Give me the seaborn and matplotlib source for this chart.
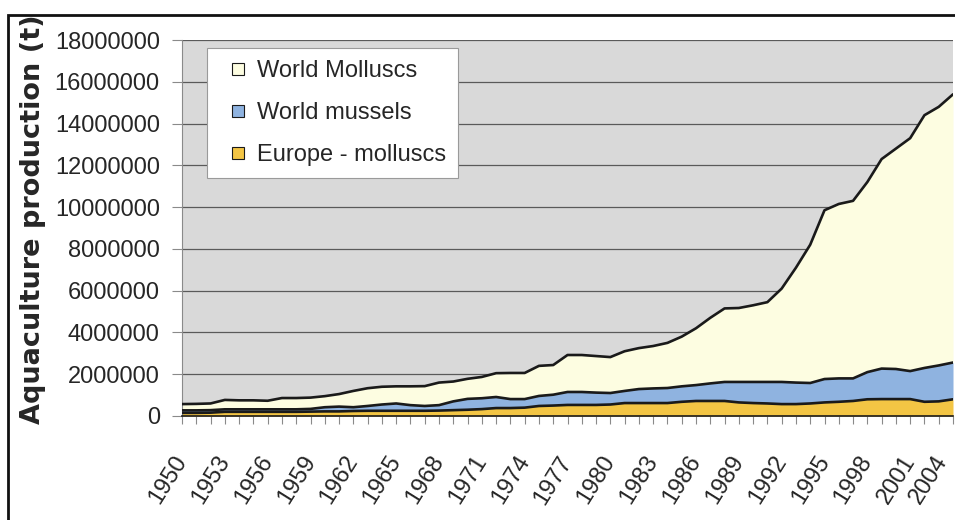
import numpy as np
import pandas as pd
import matplotlib
matplotlib.use("Agg")
import matplotlib.pyplot as plt
from matplotlib.lines import Line2D
from matplotlib.patches import Rectangle
from matplotlib.transforms import ScaledTranslation
import seaborn as sns

# ---------------- data (tonnes, stacked components) ----------------
years = list(range(1950, 2005))
europe_molluscs = [150000, 150000, 160000, 200000, 200000, 200000, 200000, 200000, 200000, 210000,
                   220000, 220000, 240000, 250000, 250000, 250000, 250000, 250000, 260000, 280000,
                   300000, 330000, 380000, 380000, 400000, 480000, 500000, 530000, 530000, 530000,
                   550000, 620000, 620000, 620000, 620000, 680000, 720000, 720000, 720000, 650000,
                   620000, 600000, 570000, 570000, 600000, 650000, 680000, 720000, 800000, 810000,
                   810000, 810000, 680000, 700000, 800000]
world_mussels = [120000, 120000, 120000, 120000, 120000, 120000, 120000, 120000, 120000, 130000,
                 200000, 230000, 180000, 230000, 300000, 350000, 270000, 230000, 260000, 420000,
                 520000, 520000, 530000, 430000, 410000, 480000, 520000, 620000, 620000, 590000,
                 550000, 580000, 670000, 700000, 720000, 740000, 760000, 840000, 910000, 980000,
                 1010000, 1030000, 1060000, 1030000, 980000, 1120000, 1120000, 1080000, 1300000, 1460000,
                 1440000, 1340000, 1620000, 1720000, 1760000]
world_molluscs = [300000, 310000, 320000, 450000, 430000, 430000, 410000, 540000, 540000, 540000,
                  530000, 600000, 780000, 850000, 850000, 820000, 900000, 950000, 1080000, 950000,
                  960000, 1020000, 1140000, 1250000, 1250000, 1440000, 1420000, 1770000, 1770000, 1750000,
                  1720000, 1900000, 1960000, 2030000, 2160000, 2380000, 2720000, 3140000, 3520000, 3540000,
                  3670000, 3820000, 4470000, 5500000, 6620000, 8080000, 8350000, 8500000, 9100000, 10030000,
                  10550000, 11150000, 12100000, 12380000, 12840000]
series_names = ["World Molluscs", "World mussels", "Europe - molluscs"]
y_ticks = [0, 2000000, 4000000, 6000000, 8000000, 10000000, 12000000, 14000000, 16000000, 18000000]
x_tick_labels = [str(y) for y in range(1950, 2005, 3)]

c_molluscs = "#fdfde1"
c_mussels = "#8fb3e0"
c_europe = "#f3c544"
bg_gray = "#d9d9d9"
text_col = "#262626"

sns.set_theme(style="white")
plt.rcParams["font.family"] = ["Liberation Sans", "DejaVu Sans"]

fig = plt.figure(figsize=(9.55, 5.2), dpi=100)
ax = fig.add_axes([182 / 955, 104 / 520, 771 / 955, 376 / 520])
ax.set_facecolor(bg_gray)

x = np.arange(len(years))
ax.stackplot(x, europe_molluscs, world_mussels, world_molluscs,
             colors=[c_europe, c_mussels, c_molluscs], linewidth=0, zorder=2)

# outline lines on top of each stacked layer
tops = np.cumsum(np.vstack([europe_molluscs, world_mussels, world_molluscs]), axis=0)
df = pd.DataFrame({
    "idx": np.tile(x, 3),
    "top": tops.ravel(),
    "series": np.repeat(series_names[::-1], len(x)),
})
sns.lineplot(data=df, x="idx", y="top", hue="series",
             palette={n: "#1a1a1a" for n in series_names},
             linewidth=1.9, legend=False, ax=ax, zorder=3)

ax.set_xlim(0, len(years) - 1)
ax.set_ylim(0, 18000000)
ax.set_yticks(y_ticks)
ax.set_yticklabels([str(v) for v in y_ticks])
ax.yaxis.grid(True, color="#5a5a5a", linewidth=0.9, zorder=1)
ax.set_axisbelow(True)

ax.set_xticks(np.arange(0, len(years), 3))
ax.set_xticklabels(x_tick_labels)
ax.set_xticks(x, minor=True)
ax.tick_params(axis="x", which="both", length=6, width=0.8, color="#8a8a8a",
               direction="out", bottom=True, pad=24, labelsize=17, labelcolor=text_col)
ax.tick_params(axis="y", length=7, width=0.8, color="#8a8a8a", direction="out",
               left=True, pad=9, labelsize=17, labelcolor=text_col)
xlabels = ax.get_xticklabels()
for lbl in xlabels:
    lbl.set_rotation(58)
    lbl.set_ha("right")
    lbl.set_va("center")
    lbl.set_rotation_mode("anchor")
# keep the last label inside the figure edge
xlabels[-1].set_transform(xlabels[-1].get_transform()
                          + ScaledTranslation(-10 / 100, 0, fig.dpi_scale_trans))

ax.set_xlabel("")
ax.set_ylabel("Aquaculture production (t)", fontsize=19.5, fontweight="bold",
              color=text_col, family=["DejaVu Sans"])
ax.yaxis.set_label_coords((46 - 182) / 771, 0.524)

for s in ["top", "right"]:
    ax.spines[s].set_visible(False)
ax.spines["left"].set_color("#8a8a8a")
ax.spines["left"].set_linewidth(0.8)
ax.spines["bottom"].set_color("#1a1a1a")
ax.spines["bottom"].set_linewidth(1.2)

handles = [Line2D([0], [0], marker="s", linestyle="none", markersize=9,
                  markerfacecolor=c, markeredgecolor="#1a1a1a", markeredgewidth=0.8)
           for c in [c_molluscs, c_mussels, c_europe]]
leg = ax.legend(handles, series_names, loc="upper left",
                bbox_to_anchor=((207 - 182) / 771, (416 - 48) / 376),
                borderaxespad=0, fontsize=17, frameon=True, fancybox=False,
                framealpha=1, edgecolor="#9a9a9a", borderpad=0.5,
                handlelength=1.6, handletextpad=0.0, labelspacing=0.85)
leg.get_frame().set_linewidth(0.8)
for t in leg.get_texts():
    t.set_color(text_col)

# outer chart frame
fig.add_artist(Rectangle((8 / 955, -0.05), 1.2, 1.05 - 15 / 520, transform=fig.transFigure,
                         fill=False, edgecolor="#111111", linewidth=2))

fig.savefig("out.png", dpi=100)
